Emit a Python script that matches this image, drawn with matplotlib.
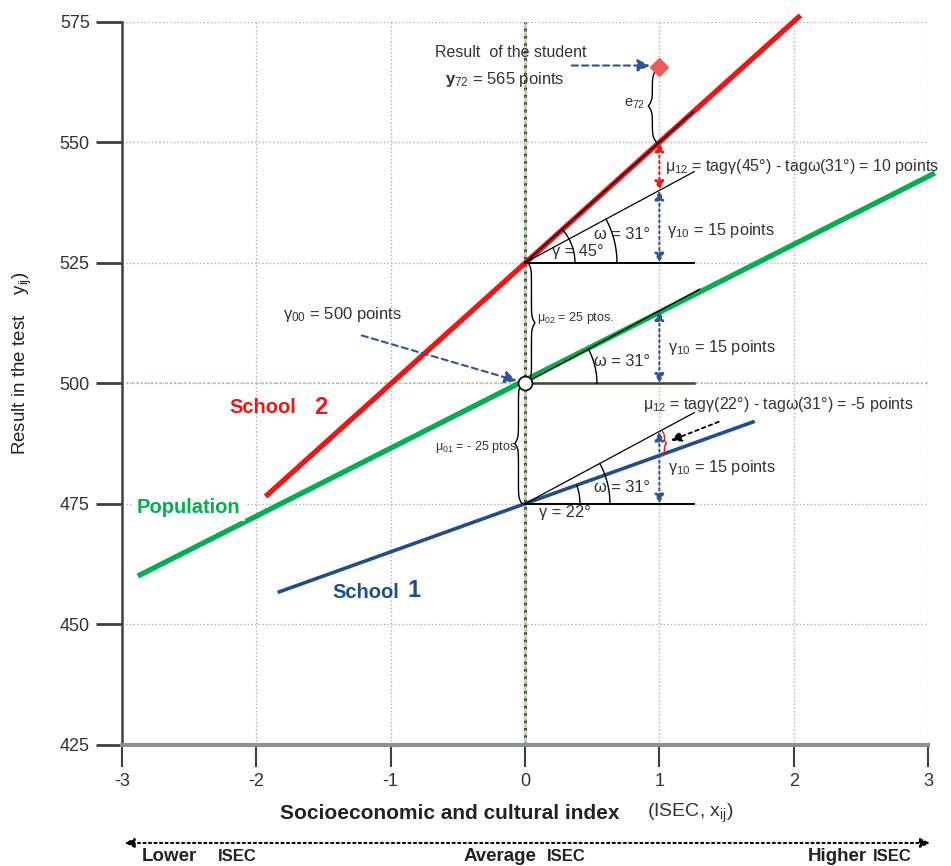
import numpy as np
import matplotlib.pyplot as plt
from matplotlib.patches import FancyArrowPatch

plt.rcParams['font.family'] = ['Liberation Sans', 'DejaVu Sans']
plt.rcParams['mathtext.fontset'] = 'custom'
plt.rcParams['mathtext.rm'] = 'Liberation Sans'
plt.rcParams['mathtext.it'] = 'Liberation Sans:italic'
plt.rcParams['mathtext.bf'] = 'Liberation Sans:bold'
plt.rcParams['axes.unicode_minus'] = False

# ejes
x_ticks = [-3, -2, -1, 0, 1, 2, 3]
y_ticks = [425, 450, 475, 500, 525, 550, 575]

# rectas (extremos)
pop_x = [-2.88, 3.05]
pop_y = [460.0, 543.6]
s1_x = [-1.84, 1.71]
s1_y = [456.6, 492.1]
s2_x = [-1.93, 2.05]
s2_y = [476.5, 576.3]

# parametros del modelo
g00 = 500
u01 = -25
u02 = 25
g10 = 15
slope1 = 10
slope2 = 25
student_x, student_y = 1, 565.5

RED = '#f01414'
GREEN = '#00b050'
NAVY = '#1f4e8c'
ABLUE = '#2f5597'
TXT = '#333333'

fig = plt.figure(figsize=(9.51, 8.66), dpi=100)
ax = fig.add_axes([0.128, 0.140, 0.848, 0.835])
ax.set_xlim(-3, 3)
ax.set_ylim(425, 575)

# pixeles por unidad (para arcos y llaves)
SX = 0.848 * 951 / 6
SY = 0.835 * 866 / 150

ax.set_xticks(x_ticks)
ax.set_yticks(y_ticks)
ax.grid(True, ls=':', color='#b0b0b0', lw=1)
for s in ['top', 'right']:
    ax.spines[s].set_visible(False)
ax.spines['left'].set_color('#404040')
ax.spines['left'].set_linewidth(1.8)
ax.spines['bottom'].set_color('#909090')
ax.spines['bottom'].set_linewidth(3)
ax.tick_params(axis='y', length=19, width=2, color='#404040', labelsize=13, pad=4, labelcolor=TXT)
ax.tick_params(axis='x', length=16, width=1.5, color='#404040', labelsize=13, pad=4, labelcolor=TXT)

ax.axhline(g00, color='#a9d18e', ls=':', lw=1.3, zorder=1)
ax.axvline(0, color='#c5e0b4', lw=2.5, zorder=1)
ax.axvline(0, color='#333333', ls=':', lw=2, zorder=1)

# rectas principales
ax.plot(pop_x, pop_y, color=GREEN, lw=3.8, solid_capstyle='butt', zorder=3, clip_on=False)
ax.plot(s2_x, s2_y, color=RED, lw=3.8, solid_capstyle='butt', zorder=3, clip_on=False)
ax.plot(s1_x, s1_y, color=NAVY, lw=2.6, solid_capstyle='butt', zorder=3)

y2 = g00 + u02
y1 = g00 + u01
L = 1.26

# lineas finas negras
ax.plot([0, 1.25], [y2, y2 + slope2 * 1.25], color='k', lw=1, zorder=4)
ax.plot([0, L], [y2, y2 + g10 * L], color='k', lw=0.9, zorder=4)
ax.plot([0, L], [y2, y2], color='k', lw=1.4, zorder=4)
ax.plot([0, 1.3], [g00, g00 + g10 * 1.3], color='k', lw=1, zorder=4)
ax.plot([0, L], [g00, g00], color='#3a4a30', lw=1.8, zorder=4)
ax.plot([0, L], [y1, y1 + g10 * L], color='k', lw=0.9, zorder=4)
ax.plot([0, L], [y1, y1], color='k', lw=1.4, zorder=4)


def arc(x0, y0, r, slope):
    ang = np.arctan(slope * SY / SX)
    t = np.linspace(0, ang, 40)
    ax.plot(x0 + r * np.cos(t) / SX, y0 + r * np.sin(t) / SY, color='k', lw=1, zorder=4)


def brace(x, ya, yb, w, color='k', beta=0.35, lw=1):
    n = abs(yb - ya) * SY
    h = np.linspace(0, n / 2, 60)
    f = 1 / (1 + np.exp(-beta * (h - h[0]))) + 1 / (1 + np.exp(-beta * (h - h[-1])))
    f = (f - f[0]) / (f[-1] - f[0])
    f = np.concatenate([f, f[-2::-1]])
    hh = np.concatenate([h, n - h[-2::-1]])
    ax.plot(x + w * f / SX, ya + np.sign(yb - ya) * hh / SY, color=color, lw=lw, zorder=5, clip_on=False)


def darrow(x, ya, yb, color):
    ax.annotate('', xy=(x, yb), xytext=(x, ya),
                arrowprops=dict(arrowstyle='<|-|>', color=color, lw=1.5, ls=':',
                                mutation_scale=14, shrinkA=0, shrinkB=0), zorder=5)


def dashed(x0, y0, x1, y1, color):
    ax.annotate('', xy=(x1, y1), xytext=(x0, y0),
                arrowprops=dict(arrowstyle='-|>', color=color, lw=1.5, ls=(0, (3, 2)),
                                mutation_scale=18, shrinkA=0, shrinkB=0), zorder=5)


# arcos de angulos
arc(0, y2, 50, slope2)
arc(0, y2, 92, g10)
arc(0, g00, 72, g10)
arc(0, y1, 55, slope1)
arc(0, y1, 85, g10)

# flechas verticales en x = 1
darrow(1, y2 + slope2, y2 + g10, RED)
darrow(1, y2 + g10, y2, ABLUE)
darrow(1, g00, g00 + g10, ABLUE)
darrow(1, y1, y1 + g10, ABLUE)

# llaves
brace(1 - 3 / SX, 565, y2 + slope2, -8)
brace(3 / SX, y2, g00, 7)
brace(-3 / SX, g00, y1, -7)
brace(1 + 3 / SX, y1 + g10, y1 + slope1, 4, color=RED, beta=0.8)

# alumno
ax.plot(student_x, student_y, marker='D', ms=9, color='#f05a5a', zorder=6)
dashed(0.348, 565.9, 0.93, 565.9, ABLUE)
ax.text(-0.671, 568.6, 'Result  of the student', fontsize=11.5, va='center', color=TXT)
ax.text(-0.597, 563.0, r'$\mathbf{y}_{72}$ = 565 points', fontsize=12, va='center', color=TXT)
ax.text(0.891, 558.0, r'e$_{72}$', fontsize=10.5, va='center', ha='right', color=TXT)

# textos superiores
fs = 11.8
fl = 11.5
ax.text(1.04, 544.9, 'μ$_{12}$ = tagγ(45°) - tagω(31°) = 10 points',
        fontsize=fl, va='center', color=TXT, clip_on=False)
ax.text(1.055, 531.6, 'γ$_{10}$ = 15 points', fontsize=fs, va='center', color=TXT)
ax.text(0.72, 530.8, 'ω = 31°', fontsize=fs, va='center', ha='center', color=TXT)
ax.text(0.393, 527.3, 'γ = 45°', fontsize=fs, va='center', ha='center', color=TXT)

# textos centrales
ax.text(-1.80, 514.2, 'γ$_{00}$ = 500 points', fontsize=12, va='center', color=TXT)
dashed(-1.214, 509.9, -0.061, 500.5, ABLUE)
ax.plot(0, g00, marker='o', ms=10, mfc='white', mec='k', mew=1.2, zorder=6)
ax.text(0.088, 513.6, 'μ$_{02}$ = 25 ptos.', fontsize=9, va='center', color=TXT)
ax.text(1.063, 507.4, 'γ$_{10}$ = 15 points', fontsize=fs, va='center', color=TXT)
ax.text(0.72, 504.5, 'ω = 31°', fontsize=fs, va='center', ha='center', color=TXT)

# textos inferiores
ax.text(-0.04, 486.8, 'μ$_{01}$ = - 25 ptos.', fontsize=9, va='center', ha='right', color=TXT)
ax.text(0.877, 495.5, 'μ$_{12}$ = tagγ(22°) - tagω(31°) = -5 points', fontsize=fl, va='center',
        color=TXT, clip_on=False)
ax.text(1.063, 482.5, 'γ$_{10}$ = 15 points', fontsize=fs, va='center', color=TXT)
ax.text(0.72, 478.3, 'ω = 31°', fontsize=fs, va='center', ha='center', color=TXT)
ax.text(0.296, 473.1, 'γ = 22°', fontsize=fs, va='center', ha='center', color=TXT)
ax.annotate('', xy=(1.085, 488.1), xytext=(1.442, 492.0),
            arrowprops=dict(arrowstyle='-|>', color='k', lw=1.3, ls=(0, (2, 2)),
                            mutation_scale=16, shrinkA=0, shrinkB=0), zorder=5)

# etiquetas de las rectas
ax.text(-2.196, 494.9, 'School', fontsize=14.5, fontweight='bold', color=RED, va='center')
ax.text(-1.52, 494.9, '2', fontsize=17, fontweight='bold', color=RED, va='center', ha='center')
ax.text(-2.888, 474.2, 'Population', fontsize=14.5, fontweight='bold', color=GREEN, va='center',
        bbox=dict(facecolor='white', edgecolor='none', pad=3), zorder=3.5)
ax.text(-1.43, 456.5, 'School', fontsize=14.5, fontweight='bold', color=NAVY, va='center')
ax.text(-0.827, 456.9, '1', fontsize=17, fontweight='bold', color=NAVY, va='center', ha='center')

# etiquetas de los ejes
fig.text(0.024, 0.580, r'Result in the test    y$_{\mathrm{ij}}$)', rotation=90, fontsize=13.5,
         va='center', ha='center', color='#222222')
fig.text(0.294, 0.061, 'Socioeconomic and cultural index', fontsize=15, fontweight='bold',
         va='center', color='#222222')
fig.text(0.680, 0.061, '(ISEC, x$_{\\mathrm{ij}}$)', fontsize=14, va='center', color='#333333')

fig.patches.append(FancyArrowPatch(
    (0.131, 0.0266), (0.978, 0.0266), transform=fig.transFigure, arrowstyle='<|-|>',
    color='k', lw=1.5, ls=':', mutation_scale=14, shrinkA=0, shrinkB=0))

for word, xw, fsz in [('Lower', 0.149, 13.5), ('ISEC', 0.229, 12), ('Average', 0.487, 13.5),
                      ('ISEC', 0.575, 12), ('Higher', 0.849, 13.5), ('ISEC', 0.918, 12)]:
    fig.text(xw, 0.0115, word, fontsize=fsz, fontweight='bold', va='center', color='#222222')

fig.savefig('out.png', dpi=100)
